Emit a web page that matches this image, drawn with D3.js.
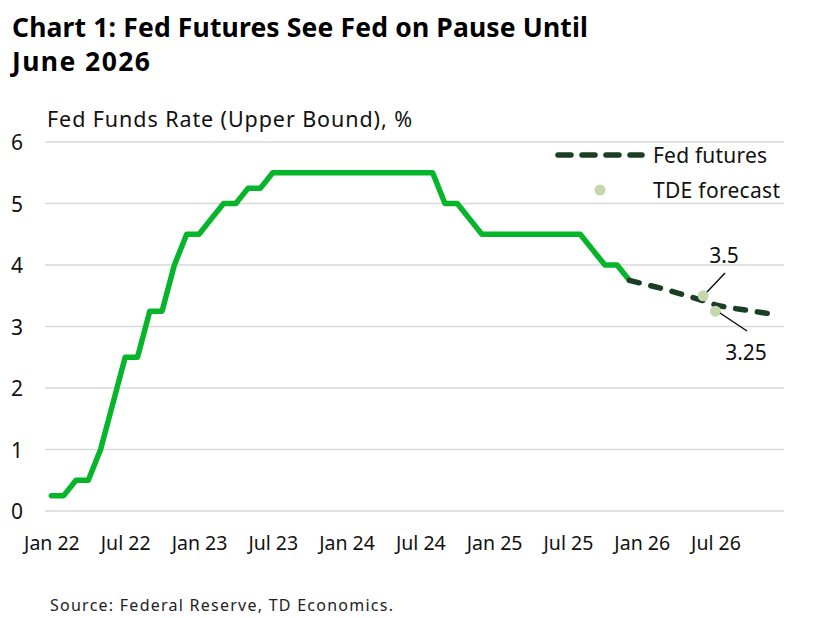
<!DOCTYPE html>
<html>
<head>
<meta charset="utf-8">
<script src="https://cdn.jsdelivr.net/npm/d3@7"></script>
<style>
  html, body { margin: 0; padding: 0; background: #ffffff; }
  svg { display: block; font-family: "Noto Sans", "Open Sans", sans-serif; }
</style>
</head>
<body>
<svg id="chart" width="827" height="618"></svg>
<script>
// ---- Data ----
// Month labels (monthly series, Jan 2022 .. Dec 2026)
const months = [];
const yrs = ["22","23","24","25","26"];
const mnames = ["Jan","Feb","Mar","Apr","May","Jun","Jul","Aug","Sep","Oct","Nov","Dec"];
yrs.forEach(y => mnames.forEach(m => months.push(m + " " + y)));

// Fed funds rate upper bound, Jan 22 .. Dec 25
const fedFunds = [
  0.25, 0.25, 0.5, 0.5, 1.0, 1.75, 2.5, 2.5, 3.25, 3.25, 4.0, 4.5,
  4.5, 4.75, 5.0, 5.0, 5.25, 5.25, 5.5, 5.5, 5.5, 5.5, 5.5, 5.5,
  5.5, 5.5, 5.5, 5.5, 5.5, 5.5, 5.5, 5.5, 5.0, 5.0, 4.75, 4.5,
  4.5, 4.5, 4.5, 4.5, 4.5, 4.5, 4.5, 4.5, 4.25, 4.0, 4.0, 3.75
];
// Fed futures implied path, Dec 25 .. Dec 26
const futuresMonths = ["Dec 25","Jan 26","Feb 26","Mar 26","Apr 26","May 26","Jun 26","Jul 26","Aug 26","Sep 26","Oct 26","Nov 26","Dec 26"];
const futures = [3.75, 3.70, 3.65, 3.60, 3.54, 3.48, 3.42, 3.35, 3.31, 3.28, 3.25, 3.22, 3.19];
// TDE forecast points
const tdeMonths = ["Jun 26", "Jul 26"];
const tdeValues = [3.5, 3.25];

const tickLabels = ["Jan 22","Jul 22","Jan 23","Jul 23","Jan 24","Jul 24","Jan 25","Jul 25","Jan 26","Jul 26"];
const yTicks = [0, 1, 2, 3, 4, 5, 6];

// ---- Layout ----
const svg = d3.select("#chart");
const colGreen = "#07b52a";
const colDark = "#1a3f26";
const colDot = "#c4d7ad";
const colGrid = "#d9d9d9";
const colText = "#111111";

const x = d3.scaleLinear().domain([0, months.length - 1]).range([51.4, 777]);
const y = d3.scaleLinear().domain([0, 6]).range([511, 142]);
const mi = m => months.indexOf(m);

// Title
svg.append("text").attr("x", 12).attr("y", 37)
  .attr("font-size", 26.5).attr("font-weight", 700).attr("fill", "#000")
  .attr("textLength", 576).attr("lengthAdjust", "spacing")
  .text("Chart 1: Fed Futures See Fed on Pause Until");
svg.append("text").attr("x", 12).attr("y", 71)
  .attr("font-size", 26.5).attr("font-weight", 700).attr("fill", "#000")
  .attr("textLength", 138).attr("lengthAdjust", "spacing")
  .text("June 2026");

// Axis title
svg.append("text").attr("x", 47).attr("y", 127)
  .attr("font-size", 21.5).attr("fill", colText)
  .attr("textLength", 365).attr("lengthAdjust", "spacing")
  .text("Fed Funds Rate (Upper Bound), %");

// Gridlines
svg.append("g").selectAll("line").data(yTicks).join("line")
  .attr("x1", 45).attr("x2", 784)
  .attr("y1", d => y(d)).attr("y2", d => y(d))
  .attr("stroke", colGrid).attr("stroke-width", 1.5);

// Y axis labels
const yAxis = d3.axisLeft(y).tickValues(yTicks).tickSize(0).tickFormat(d3.format("d"));
const gy = svg.append("g").attr("transform", "translate(24,0)").call(yAxis);
gy.select(".domain").remove();
gy.selectAll("text").attr("font-size", 21).attr("fill", colText)
  .attr("font-family", "Noto Sans, sans-serif").attr("text-anchor", "middle").attr("x", -7).attr("dy", "0.36em");

// X axis labels
const xAxis = d3.axisBottom(x).tickValues(tickLabels.map(mi)).tickSize(0)
  .tickFormat(i => months[i]);
const gx = svg.append("g").attr("transform", "translate(0,536)").call(xAxis);
gx.select(".domain").remove();
gx.selectAll("text").attr("font-size", 19.5).attr("fill", colText)
  .attr("font-family", "Noto Sans, sans-serif").attr("y", 0).attr("dy", "0.72em");

// Fed funds line
const line = d3.line().x(d => x(d[0])).y(d => y(d[1]));
svg.append("path")
  .datum(fedFunds.map((v, i) => [i, v]))
  .attr("d", line).attr("fill", "none")
  .attr("stroke", colGreen).attr("stroke-width", 5.5)
  .attr("stroke-linejoin", "round").attr("stroke-linecap", "round");

// Futures dashed line
svg.append("path")
  .datum(futures.map((v, i) => [mi(futuresMonths[i]), v]))
  .attr("d", line).attr("fill", "none")
  .attr("stroke", colDark).attr("stroke-width", 5.5)
  .attr("stroke-dasharray", "10,12").attr("stroke-linecap", "round");

// TDE forecast dots
svg.append("g").selectAll("circle").data(tdeValues).join("circle")
  .attr("cx", (d, i) => x(mi(tdeMonths[i])))
  .attr("cy", d => y(d))
  .attr("r", 5.5).attr("fill", colDot);

// Annotations
const ann = [
  {lx1: 725, ly1: 273, lx2: 707, ly2: 292, tx: 724, ty: 263, label: "3.5"},
  {lx1: 720, ly1: 313, lx2: 747, ly2: 331, tx: 746, ty: 360, label: "3.25"}
];
ann.forEach(a => {
  svg.append("line").attr("x1", a.lx1).attr("y1", a.ly1).attr("x2", a.lx2).attr("y2", a.ly2)
    .attr("stroke", "#111").attr("stroke-width", 1.5);
  svg.append("text").attr("x", a.tx).attr("y", a.ty).attr("text-anchor", "middle")
    .attr("font-size", 21).attr("fill", colText).text(a.label);
});

// Legend
svg.append("line").attr("x1", 558).attr("x2", 642).attr("y1", 155).attr("y2", 155)
  .attr("stroke", colDark).attr("stroke-width", 5.5)
  .attr("stroke-dasharray", "13,11").attr("stroke-linecap", "round");
svg.append("text").attr("x", 653).attr("y", 163).attr("font-size", 21).attr("fill", colText)
  .attr("textLength", 114).attr("lengthAdjust", "spacing").text("Fed futures");
svg.append("circle").attr("cx", 600).attr("cy", 190).attr("r", 5.5).attr("fill", colDot);
svg.append("text").attr("x", 653).attr("y", 198).attr("font-size", 21).attr("fill", colText)
  .attr("textLength", 127).attr("lengthAdjust", "spacing").text("TDE forecast");

// Source
svg.append("text").attr("x", 50).attr("y", 611).attr("font-size", 16).attr("fill", "#222")
  .attr("textLength", 343).attr("lengthAdjust", "spacing")
  .text("Source: Federal Reserve, TD Economics.");
</script>
</body>
</html>
